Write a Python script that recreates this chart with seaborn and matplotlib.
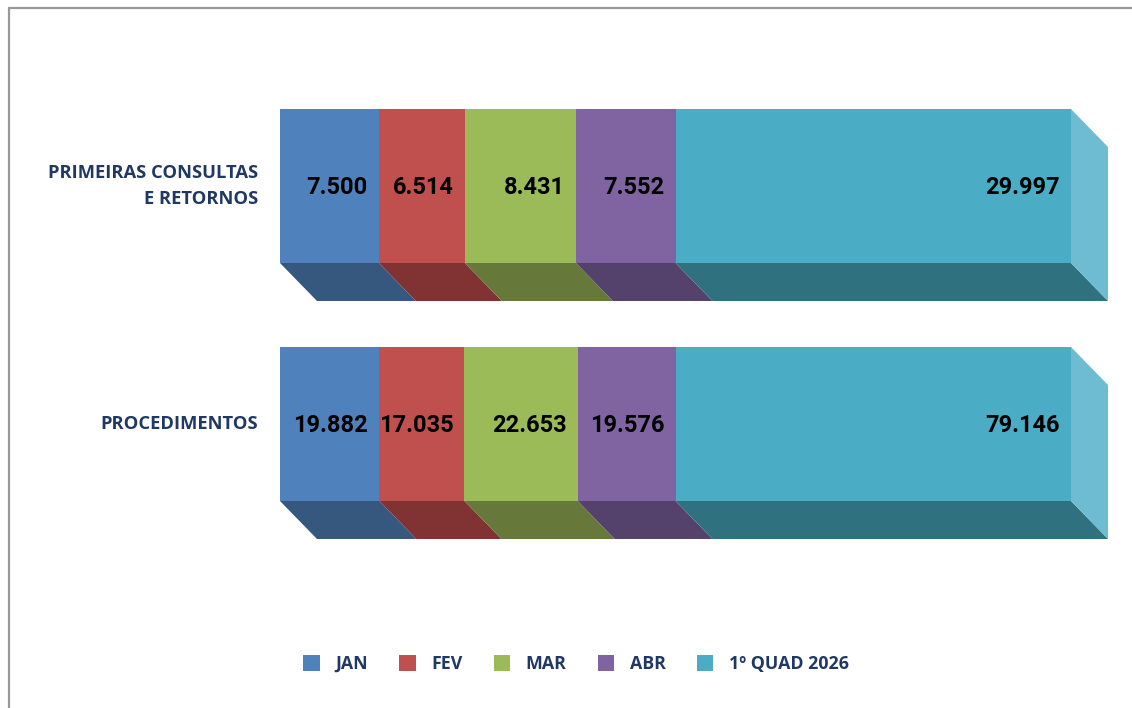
import matplotlib
matplotlib.use("Agg")
import matplotlib.pyplot as plt
import seaborn as sns
import numpy as np
import pandas as pd
from matplotlib.patches import Polygon, Patch
from matplotlib.lines import Line2D

# ---- data ----
categories = ["PRIMEIRAS CONSULTAS\nE RETORNOS", "PROCEDIMENTOS"]
series = ["JAN", "FEV", "MAR", "ABR", "1º QUAD 2026"]
jan = [7500, 19882]
fev = [6514, 17035]
mar = [8431, 22653]
abr = [7552, 19576]
quad = [29997, 79146]

front_colors = ["#4F81BD", "#C0504D", "#9BBB59", "#8064A2", "#4BACC6"]
bottom_colors = ["#36587F", "#803332", "#66793A", "#55426C", "#2F717F"]
side_color = "#6EBCD1"
navy = "#1F3864"

sns.set_theme(style="white")
plt.rcParams["font.family"] = ["Open Sans", "DejaVu Sans"]

W, H, DPI = 1132, 708, 100
fig = plt.figure(figsize=(W / DPI, H / DPI), dpi=DPI)
fig.patch.set_facecolor("white")

# axes geometry (pixels)
x0px, x1px = 280, 1071
ytop_px, ybot_px = 67, 543
ax = fig.add_axes([x0px / W, 1 - ybot_px / H, (x1px - x0px) / W, (ybot_px - ytop_px) / H])

vals = np.array([jan, fev, mar, abr, quad], dtype=float)  # series x categories
totals = vals.sum(axis=0)
shares = vals / totals
cum = np.cumsum(shares, axis=0)
left = cum - shares

bar_h = 154 / 238
# draw stacked (cumulative) bars, largest first so smaller overlay
for i in range(len(series) - 1, -1, -1):
    df = pd.DataFrame({"cat": categories, "val": cum[i]})
    sns.barplot(data=df, x="val", y="cat", orient="h", color=front_colors[i],
                width=bar_h, linewidth=0, saturation=1, ax=ax, zorder=3)

ax.set_xlim(0, 1)
ax.set_ylim(1.5, -0.5)

# 3D depth in data units
dx = 37 / (x1px - x0px)
dy = 38 / ((ybot_px - ytop_px) / 2)

for j in range(len(categories)):
    yb = j + bar_h / 2
    yt = j - bar_h / 2
    for i in range(len(series)):
        xl, xr = left[i, j], cum[i, j]
        poly = Polygon([(xl, yb), (xr, yb), (xr + dx, yb + dy), (xl + dx, yb + dy)],
                       closed=True, facecolor=bottom_colors[i], edgecolor="none",
                       clip_on=False, zorder=2)
        ax.add_patch(poly)
        ax.annotate(f"{int(vals[i, j]):,}".replace(",", "."), xy=(xr, j),
                    xytext=(-8, -1), textcoords="offset points",
                    ha="right", va="center", fontsize=17, fontweight="bold",
                    family=["Roboto", "DejaVu Sans"], color="black", zorder=5)
    xr = cum[-1, j]
    side = Polygon([(xr, yt), (xr + dx, yt + dy), (xr + dx, yb + dy), (xr, yb)],
                   closed=True, facecolor=side_color, edgecolor="none",
                   clip_on=False, zorder=2)
    ax.add_patch(side)

for s in ax.spines.values():
    s.set_visible(False)
ax.set_xticks([])
ax.set_xlabel("")
ax.set_ylabel("")
ax.tick_params(axis="y", length=0, pad=16)
for lbl in ax.get_yticklabels():
    lbl.set_fontsize(13.2)
    lbl.set_fontweight("bold")
    lbl.set_color(navy)
    lbl.set_multialignment("right")
    lbl.set_linespacing(1.55)
    lbl.set_va("center")

# legend
handles = [Patch(facecolor=c, edgecolor="none") for c in front_colors]
leg = fig.legend(handles, series, loc="center", bbox_to_anchor=(576 / W, 1 - 664 / H),
                 ncol=5, frameon=False, handlelength=0.95, handleheight=0.95,
                 handletextpad=0.85, columnspacing=1.75,
                 prop={"family": "Open Sans", "weight": "bold", "size": 12.8})
for t in leg.get_texts():
    t.set_color(navy)

# border (top and left)
fig.add_artist(Line2D([9 / W, 9 / W], [0, 1 - 8 / H], transform=fig.transFigure,
                      color="#999999", linewidth=1.6))
fig.add_artist(Line2D([9 / W, 1], [1 - 8 / H, 1 - 8 / H], transform=fig.transFigure,
                      color="#999999", linewidth=1.6))

fig.savefig("out.png", dpi=DPI, facecolor="white")
